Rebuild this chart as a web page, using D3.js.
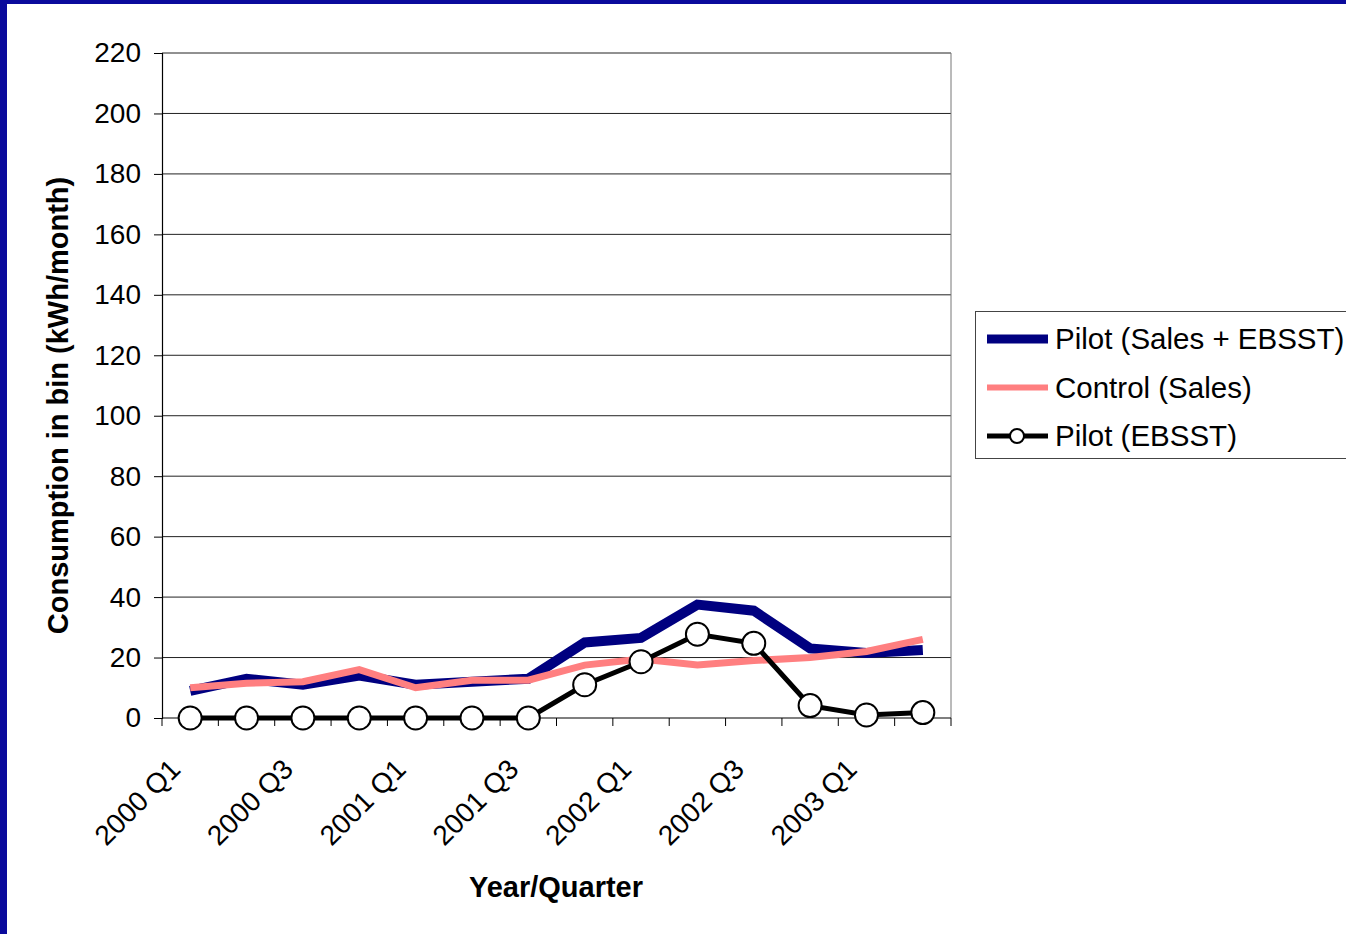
<!DOCTYPE html>
<html>
<head>
<meta charset="utf-8">
<script src="https://cdn.jsdelivr.net/npm/d3@7"></script>
<style>
  html, body { margin: 0; padding: 0; background: #fff; }
  svg { display: block; font-family: "Liberation Sans", Arial, sans-serif; }
</style>
</head>
<body>
<svg id="chart" width="1346" height="934"></svg>
<script>
// Quarterly periods
const quarters = ["2000 Q1","2000 Q2","2000 Q3","2000 Q4","2001 Q1","2001 Q2","2001 Q3",
                  "2001 Q4","2002 Q1","2002 Q2","2002 Q3","2002 Q4","2003 Q1","2003 Q2"];
// Labels shown on the category axis (every other quarter)
const shownQuarters = ["2000 Q1","2000 Q3","2001 Q1","2001 Q3","2002 Q1","2002 Q3","2003 Q1"];
// Consumption in bin (kWh/month)
const pilotSalesEbsst = [9, 13, 11, 14, 11, 12, 13, 25, 26.5, 37.5, 35.5, 23, 21.5, 22.5];
const controlSales    = [10, 11.5, 12, 16, 10, 12.5, 12.5, 17.5, 19.5, 17.5, 19, 20, 22, 26];
const pilotEbsst      = [0, 0, 0, 0, 0, 0, 0, 11, 18.6, 27.7, 24.7, 4.1, 1, 1.8];
const yTicks = [0, 20, 40, 60, 80, 100, 120, 140, 160, 180, 200, 220];

const svg = d3.select("#chart");
const W = 1346, H = 934;
const frame = "#0a0a9c";

// Slide frame along the top and left edges
svg.append("rect").attr("x", 0).attr("y", 0).attr("width", W).attr("height", 4).attr("fill", frame);
svg.append("rect").attr("x", 0).attr("y", 0).attr("width", 7).attr("height", H).attr("fill", frame);

const plot = { left: 162, top: 53, right: 951, bottom: 718 };

const x = d3.scaleBand().domain(quarters).range([plot.left, plot.right]);
const y = d3.scaleLinear().domain([0, 220]).range([plot.bottom, plot.top]);
const cx = d => x(d) + x.bandwidth() / 2;

// Horizontal gridlines
svg.append("g").selectAll("line").data(yTicks.filter(v => v > 0)).join("line")
  .attr("x1", plot.left).attr("x2", plot.right)
  .attr("y1", d => y(d)).attr("y2", d => y(d))
  .attr("stroke", "#222").attr("stroke-width", 1);

// Right edge of plot area
svg.append("line").attr("x1", plot.right).attr("x2", plot.right)
  .attr("y1", plot.top).attr("y2", plot.bottom).attr("stroke", "#777").attr("stroke-width", 1);

// Y axis
const yAxis = d3.axisLeft(y).tickValues(yTicks).tickSize(8).tickPadding(13);
const gy = svg.append("g").attr("transform", `translate(${plot.left},0)`).call(yAxis);
gy.select(".domain").attr("stroke", "#000").attr("stroke-width", 1.2);
gy.selectAll(".tick line").attr("stroke", "#000");
gy.selectAll("text").attr("font-size", 28).attr("fill", "#000")
  .attr("font-family", "Liberation Sans, Arial, sans-serif");

// X axis: ticks at category boundaries
const boundaries = quarters.map(q => x(q)).concat([plot.right]);
const gx = svg.append("g");
gx.append("line").attr("x1", plot.left).attr("x2", plot.right)
  .attr("y1", plot.bottom).attr("y2", plot.bottom).attr("stroke", "#000").attr("stroke-width", 1.2);
gx.selectAll("line.tk").data(boundaries).join("line").attr("class", "tk")
  .attr("x1", d => d).attr("x2", d => d)
  .attr("y1", plot.bottom).attr("y2", plot.bottom + 8).attr("stroke", "#000");
gx.selectAll("text").data(shownQuarters).join("text")
  .attr("transform", d => `translate(${cx(d) - 15},${plot.bottom + 46}) rotate(-45)`)
  .attr("text-anchor", "end").attr("dy", "0.35em")
  .attr("font-size", 28).attr("fill", "#000").text(d => d);

// Axis titles
svg.append("text").attr("transform", `translate(68,${(plot.top + plot.bottom) / 2 + 20}) rotate(-90)`)
  .attr("text-anchor", "middle").attr("font-size", 29).attr("font-weight", "bold").attr("fill", "#000")
  .text("Consumption in bin (kWh/month)");
svg.append("text").attr("x", 556).attr("y", 897)
  .attr("text-anchor", "middle").attr("font-size", 29).attr("font-weight", "bold").attr("fill", "#000")
  .text("Year/Quarter");

// Series lines
const line = d3.line().x((d, i) => cx(quarters[i])).y(d => y(d)).curve(d3.curveLinear);
const series = [
  { name: "Pilot (Sales + EBSST)", values: pilotSalesEbsst, color: "#000080", width: 10, marker: false },
  { name: "Control (Sales)",       values: controlSales,    color: "#ff7f80", width: 7,  marker: false },
  { name: "Pilot (EBSST)",         values: pilotEbsst,      color: "#000000", width: 5,  marker: true }
];
series.forEach(s => {
  svg.append("path").datum(s.values).attr("d", line)
    .attr("fill", "none").attr("stroke", s.color).attr("stroke-width", s.width)
    .attr("stroke-linejoin", "miter");
  if (s.marker) {
    svg.append("g").selectAll("circle").data(s.values).join("circle")
      .attr("cx", (d, i) => cx(quarters[i])).attr("cy", d => y(d)).attr("r", 11.5)
      .attr("fill", "#fff").attr("stroke", "#000").attr("stroke-width", 2);
  }
});

// Legend
const lg = svg.append("g");
lg.append("rect").attr("x", 975.5).attr("y", 311.5).attr("width", 380).attr("height", 147)
  .attr("fill", "#fff").attr("stroke", "#444").attr("stroke-width", 1);
series.forEach((s, i) => {
  const ly = 339 + i * 48.5;
  lg.append("line").attr("x1", 987).attr("x2", 1048).attr("y1", ly).attr("y2", ly)
    .attr("stroke", s.color).attr("stroke-width", s.marker ? 5 : s.width - 1);
  if (s.marker) {
    lg.append("circle").attr("cx", 1017).attr("cy", ly).attr("r", 7)
      .attr("fill", "#fff").attr("stroke", "#000").attr("stroke-width", 2);
  }
  lg.append("text").attr("x", 1055).attr("y", ly).attr("dy", "0.35em")
    .attr("font-size", 29.5).attr("fill", "#000").text(s.name);
});
</script>
</body>
</html>
